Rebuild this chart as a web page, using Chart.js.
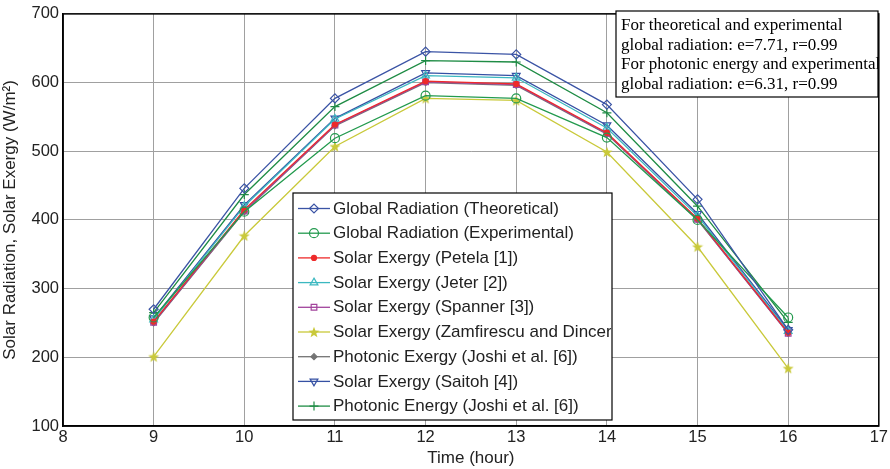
<!DOCTYPE html>
<html><head><meta charset="utf-8">
<script src="https://cdn.jsdelivr.net/npm/chart.js@4/dist/chart.umd.min.js"></script>
<style>html,body{margin:0;padding:0;background:#fff}#wrap{width:890px;height:469px}</style>
</head><body><div id="wrap"><canvas id="c" width="890" height="469"></canvas></div>
<script>
const hours = [9, 10, 11, 12, 13, 14, 15, 16];
const theoretical = [270, 446, 577, 645, 641, 568, 430, 240];
const experimental = [258, 412, 519, 581, 577, 520, 400, 258];
const petela = [252, 415, 539, 602, 598, 527, 402, 236];
const jeter = [255, 420, 547, 610, 607, 534, 406, 238];
const spanner = [251, 413, 538, 601, 597, 526, 401, 235];
const zamfirescu = [201, 377, 507, 577, 574, 499, 361, 184];
const photonicExergy = [250, 412, 537, 600, 596, 525, 400, 235];
const saitoh = [257, 422, 548, 614, 610, 538, 409, 240];
const photonicEnergy = [265, 437, 565, 632, 630, 556, 420, 251];
const yTicks = [100, 200, 300, 400, 500, 600, 700];
const xTicks = [8, 9, 10, 11, 12, 13, 14, 15, 16, 17];
const noteLines = ["For theoretical and experimental", "global radiation: e=7.71, r=0.99", "For photonic energy and experimental", "global radiation: e=6.31, r=0.99"];

function starCanvas(color){
  const c=document.createElement('canvas'); c.width=12; c.height=12;
  const g=c.getContext('2d'); g.fillStyle=color; g.beginPath();
  for(let i=0;i<10;i++){const r=i%2?2.4:5.8; const a=-Math.PI/2+i*Math.PI/5; g.lineTo(6+r*Math.cos(a),6.5+r*Math.sin(a));}
  g.closePath(); g.fill(); return c;
}
const star = starCanvas('#c9c93a');

function ds(label, data, color, style, extra){
  return Object.assign({label, data: data.map((v,i)=>({x:hours[i], y:v})), borderColor:color, backgroundColor:color,
    pointStyle:style, pointRadius:4, pointBorderWidth:1.2, pointBackgroundColor:'rgba(255,255,255,0)', pointBorderColor:color,
    borderWidth:1.3, tension:0, fill:false}, extra||{});
}
const datasets = [
  ds('Global Radiation (Theoretical)', theoretical, '#3b54a5', 'rectRot', {pointRadius:4.5}),
  ds('Global Radiation (Experimental)', experimental, '#239a4e', 'circle', {pointRadius:4.5}),
  ds('Solar Exergy (Petela [1])', petela, '#ee2a2a', 'circle', {pointRadius:2.5, pointBackgroundColor:'#ee2a2a'}),
  ds('Solar Exergy (Jeter [2])', jeter, '#3bb8c0', 'triangle', {pointRadius:4.5}),
  ds('Solar Exergy (Spanner [3])', spanner, '#a2449c', 'rect', {pointRadius:4}),
  ds('Solar Exergy (Zamfirescu and Dincer [5])', zamfirescu, '#c9c93a', star, {}),
  ds('Photonic Exergy (Joshi et al. [6])', photonicExergy, '#737373', 'rectRot', {pointRadius:3, pointBackgroundColor:'#737373'}),
  ds('Solar Exergy (Saitoh [4])', saitoh, '#3550a3', 'triangle', {pointRadius:4.5, pointRotation:180}),
  ds('Photonic Energy (Joshi et al. [6])', photonicEnergy, '#1f8c45', 'cross', {pointRadius:4.5})
];

const overlay = {
  id:'overlay',
  afterDraw(chart){
    const ctx=chart.ctx, a=chart.chartArea;
    ctx.save();
    ctx.strokeStyle='#000'; ctx.lineWidth=1.5;
    ctx.strokeRect(a.left, a.top, a.right-a.left, a.bottom-a.top);
    // note box
    ctx.fillStyle='#fff'; ctx.fillRect(616,11,262,86);
    ctx.lineWidth=1.2; ctx.strokeRect(616,11,262,86);
    ctx.save(); ctx.beginPath(); ctx.rect(616,11,262,86); ctx.clip();
    ctx.fillStyle='#000'; ctx.font='17px "Liberation Serif"'; ctx.textBaseline='alphabetic'; ctx.textAlign='left';
    noteLines.forEach((t,i)=>ctx.fillText(t, 621, 30+i*19.5));
    ctx.restore();
    // legend
    const L=293,T=193,R=612,B=420;
    ctx.fillStyle='#fff'; ctx.fillRect(L,T,R-L,B-T);
    ctx.strokeStyle='#000'; ctx.lineWidth=1.2; ctx.strokeRect(L,T,R-L,B-T);
    ctx.save(); ctx.beginPath(); ctx.rect(L,T,R-L-1,B-T); ctx.clip();
    ctx.font='17px "Liberation Sans"'; ctx.textBaseline='middle';
    chart.data.datasets.forEach((d,i)=>{
      const y=208.5+i*24.7;
      ctx.strokeStyle=d.borderColor; ctx.lineWidth=1.3;
      ctx.beginPath(); ctx.moveTo(298,y); ctx.lineTo(330,y); ctx.stroke();
      ctx.fillStyle=d.pointBackgroundColor; ctx.strokeStyle=d.pointBorderColor; ctx.lineWidth=1.2;
      Chart.helpers.drawPoint(ctx,{pointStyle:d.pointStyle, radius:d.pointRadius, rotation:d.pointRotation||0, borderWidth:1.2}, 314, y);
      ctx.fillStyle='#222'; ctx.fillText(d.label, 333, y+0.5);
    });
    ctx.restore();
    ctx.restore();
  }
};

new Chart(document.getElementById('c'), {
  type:'line',
  data:{datasets},
  plugins:[overlay],
  options:{
    responsive:false, animation:false, devicePixelRatio:1,
    layout:{padding:{top:10,right:10,left:0,bottom:0}},
    plugins:{legend:{display:false}, tooltip:{enabled:false}},
    scales:{
      x:{type:'linear', min:8, max:17, afterFit:s=>{s.height=43;},
        afterBuildTicks:s=>{s.ticks=xTicks.map(v=>({value:v}));},
        grid:{color:'#a0a0a0', lineWidth:1, drawTicks:false},
        border:{color:'#000', width:1.5},
        ticks:{font:{family:'Liberation Sans', size:16.5}, color:'#222', padding:2, maxRotation:0},
        title:{display:true, text:'Time (hour)', font:{family:'Liberation Sans', size:17}, color:'#222', padding:{top:0,bottom:0}}
      },
      y:{type:'linear', min:100, max:700, afterFit:s=>{s.width=63;},
        afterBuildTicks:s=>{s.ticks=yTicks.map(v=>({value:v}));},
        grid:{color:'#a0a0a0', lineWidth:1, drawTicks:false},
        border:{color:'#000', width:1.5},
        ticks:{font:{family:'Liberation Sans', size:16.5}, color:'#222', padding:4},
        title:{display:true, text:'Solar Radiation, Solar Exergy (W/m²)', font:{family:'Liberation Sans', size:17}, color:'#222', padding:{top:0,bottom:0}}
      }
    }
  }
});
</script></body></html>
